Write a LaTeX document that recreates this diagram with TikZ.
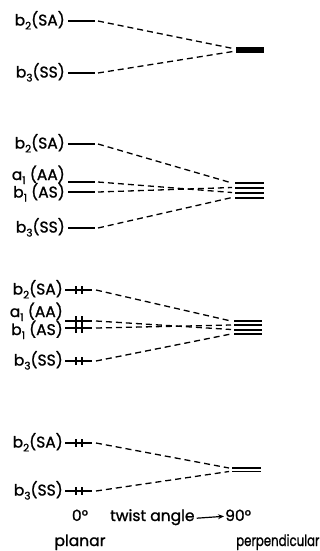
\documentclass[tikz,border=0pt]{standalone}
\usepackage{fontspec}
\setmainfont{Poppins}[BoldFont=Poppins, BoldFeatures={FakeBold=1.2}]
\usetikzlibrary{arrows.meta}
\newcommand\lsub[1]{\raisebox{-4pt}{\fontsize{10.5}{10.5}\selectfont #1}}
\begin{document}
\begin{tikzpicture}[x=1pt,y=-1pt,
  lvl/.style={line width=2.2pt},
  rlvl/.style={line width=2pt},
  conn/.style={dash pattern=on 6pt off 4pt, line width=1.3pt},
  pair/.style={line width=1.5pt},
  lab/.style={anchor=base east, inner sep=0pt, font=\fontsize{15.5}{15.5}\selectfont\bfseries},
  txt/.style={inner sep=0pt, font=\fontsize{15.5}{15.5}\selectfont\bfseries}]
\useasboundingbox (0,0) rectangle (320,551);

% ---------- block 1 ----------
\node[lab] (t1a) at (65,25.5) {b\lsub{2}(SA)};
\node[lab] (t1b) at (65,77.5) {b\lsub{3}(SS)};
\draw[lvl] (68,21) -- (95,21) coordinate (s1a);
\draw[lvl] (68,73) -- (95,73) coordinate (s1b);
\fill (236,47) rectangle (264,53);
\coordinate (e1a) at (233,48.5);
\coordinate (e1b) at (233,51.5);
\draw[conn] ([xshift=3pt]s1a) -- (e1a);
\draw[conn] ([xshift=3pt]s1b) -- (e1b);

% ---------- block 2 ----------
\node[lab] (t2a) at (65,148.5) {b\lsub{2}(SA)};
\node[lab] (t2b) at (65,180) {a\lsub{1} (AA)};
\node[lab] (t2c) at (65,197.5) {b\lsub{1} (AS)};
\node[lab] (t2d) at (65,232.5) {b\lsub{3}(SS)};
\draw[lvl] (68,144) -- (95,144) coordinate (s2a);
\draw[lvl] (68,182) -- (95,182) coordinate (s2b);
\draw[lvl] (68,192) -- (95,192) coordinate (s2c);
\draw[lvl] (68,228) -- (95,228) coordinate (s2d);
\draw[rlvl] (235,183) coordinate (e2a) -- (264,183);
\draw[rlvl] (235,187.5) coordinate (e2b) -- (264,187.5);
\draw[rlvl] (235,192.5) coordinate (e2c) -- (264,192.5);
\draw[rlvl] (235,197.5) coordinate (e2d) -- (264,197.5);
\draw[conn] ([xshift=3pt]s2a) -- ([xshift=-3pt]e2a);
\draw[conn] ([xshift=3pt]s2c) -- ([xshift=-3pt]e2b);
\draw[conn] ([xshift=3pt]s2b) -- ([xshift=-3pt]e2c);
\draw[conn] ([xshift=3pt]s2d) -- ([xshift=-3pt]e2d);

% ---------- block 3 ----------
\node[lab] (t3a) at (63,294.5) {b\lsub{2}(SA)};
\node[lab] (t3b) at (63,317) {a\lsub{1} (AA)};
\node[lab] (t3c) at (63,335) {b\lsub{1} (AS)};
\node[lab] (t3d) at (63,365.5) {b\lsub{3}(SS)};
\draw[lvl] (65,290) -- (92,290) coordinate (s3a);
\draw[lvl] (65,321) -- (92,321) coordinate (s3b);
\draw[lvl] (65,328) -- (92,328) coordinate (s3c);
\draw[lvl] (65,361) -- (92,361) coordinate (s3d);
\draw[pair] (76,286) -- (76,294) (82,286) -- (82,294);
\draw[pair] (76,316) -- (76,333) (82,316) -- (82,333);
\draw[pair] (76,357) -- (76,365) (82,357) -- (82,365);
\draw[rlvl] (234,321) coordinate (e3a) -- (262,321);
\draw[rlvl] (234,325) coordinate (e3b) -- (262,325);
\draw[rlvl] (234,329.5) coordinate (e3c) -- (262,329.5);
\draw[rlvl] (234,334) coordinate (e3d) -- (262,334);
\draw[conn] ([xshift=4pt]s3a) -- ([xshift=-3pt]e3a);
\draw[conn] ([xshift=4pt]s3c) -- ([xshift=-3pt]e3b);
\draw[conn] ([xshift=4pt]s3b) -- ([xshift=-3pt]e3c);
\draw[conn] ([xshift=4pt]s3d) -- ([xshift=-3pt]e3d);

% ---------- block 4 ----------
\node[lab] (t4a) at (63,447.5) {b\lsub{2}(SA)};
\node[lab] (t4b) at (63,495.5) {b\lsub{3}(SS)};
\draw[lvl] (65,443) -- (92,443) coordinate (s4a);
\draw[lvl] (65,491) -- (92,491) coordinate (s4b);
\draw[pair] (76,439) -- (76,447) (82,439) -- (82,447);
\draw[pair] (76,487) -- (76,495) (82,487) -- (82,495);
\draw[line width=1.5pt] (232,468) coordinate (e4a) -- (261,468);
\draw[line width=1.5pt] (232,471.5) coordinate (e4b) -- (261,471.5);
\draw[conn] ([xshift=4pt]s4a) -- ([xshift=-3pt]e4a);
\draw[conn] ([xshift=4pt]s4b) -- ([xshift=-3pt]e4b);

% ---------- axis labels ----------
\node[txt, anchor=base] (zero) at (80,521) {0°};
\node[txt, anchor=base west] (twist) at (110,521) {twist angle};
\node[txt, anchor=base west] (ninety) at (225,521) {90°};
\draw[line width=1.2pt, -{Stealth[length=6pt,width=5pt]}] ([xshift=2pt,yshift=-1pt]twist.east) -- ([xshift=-1pt,yshift=-1pt]ninety.west);
\node[txt, anchor=base] (planar) at (80,546) {planar};
\node[txt, anchor=base west] (perp) at (236,546) {\scalebox{0.76}[1]{perpendicular}};
\end{tikzpicture}
\end{document}
